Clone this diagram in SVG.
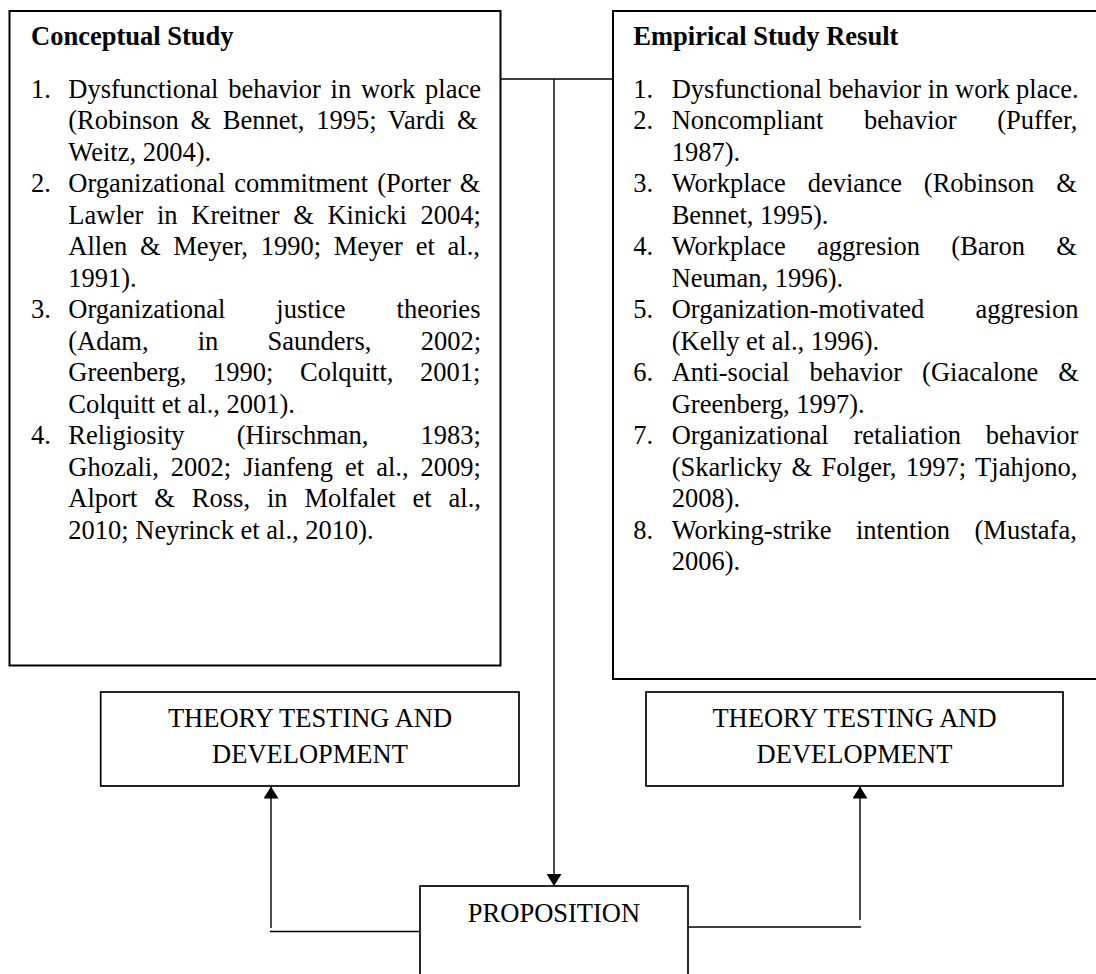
<svg xmlns="http://www.w3.org/2000/svg" width="1096" height="974" viewBox="0 0 1096 974">
<style>
.t{font-family:"Liberation Serif","Times New Roman",serif;font-size:26.5px;fill:#000}
.b{font-weight:bold}
.m{text-anchor:middle}
.box{fill:#fff;stroke:#000;stroke-width:2}
.sb{fill:#fff;stroke:#000;stroke-width:1.7}
.c{fill:none;stroke:#000;stroke-width:1.4}
</style>
<defs>
<marker id="ah" viewBox="0 0 12 15" refX="12" refY="7.5" markerWidth="12" markerHeight="15" orient="auto" markerUnits="userSpaceOnUse">
<path d="M0,0 L12,7.5 L0,15 z" fill="#000"/>
</marker>
</defs>
<rect width="1096" height="974" fill="#fff"/>

<g id="connectors">
<line class="c" x1="500.5" y1="79" x2="613" y2="79"/>
<line class="c" x1="554" y1="79" x2="554" y2="886" marker-end="url(#ah)"/>
<line class="c" x1="420" y1="931.5" x2="270" y2="931.5"/>
<line class="c" x1="271" y1="928" x2="271" y2="786.5" marker-end="url(#ah)"/>
<line class="c" x1="688" y1="927" x2="861" y2="927"/>
<line class="c" x1="860" y1="920" x2="860" y2="786.5" marker-end="url(#ah)"/>
</g>

<g id="conceptual">
<rect class="box" x="9.5" y="11" width="491" height="654.5"/>
<text class="t b" x="31" y="44.5">Conceptual Study</text>
<text class="t" x="31" y="97.5">1.</text>
<text class="t" x="68.3" y="97.5" word-spacing="3.09">Dysfunctional behavior in work place</text>
<text class="t" x="68.3" y="129" word-spacing="5.1">(Robinson &amp; Bennet, 1995; Vardi &amp;</text>
<text class="t" x="68.3" y="160.5">Weitz, 2004).</text>
<text class="t" x="31" y="192">2.</text>
<text class="t" x="68.3" y="192" word-spacing="2.38">Organizational commitment (Porter &amp;</text>
<text class="t" x="68.3" y="223.5" word-spacing="7.03">Lawler in Kreitner &amp; Kinicki 2004;</text>
<text class="t" x="68.3" y="255" word-spacing="6.1">Allen &amp; Meyer, 1990; Meyer et al.,</text>
<text class="t" x="68.3" y="286.5">1991).</text>
<text class="t" x="31" y="318">3.</text>
<text class="t" x="68.3" y="318" word-spacing="44.43">Organizational justice theories</text>
<text class="t" x="68.3" y="349.5" word-spacing="42.62">(Adam, in Saunders, 2002;</text>
<text class="t" x="68.3" y="381" word-spacing="20.04">Greenberg, 1990; Colquitt, 2001;</text>
<text class="t" x="68.3" y="412.5">Colquitt et al., 2001).</text>
<text class="t" x="31" y="444">4.</text>
<text class="t" x="68.3" y="444" word-spacing="45.51">Religiosity (Hirschman, 1983;</text>
<text class="t" x="68.3" y="475.5" word-spacing="5.4">Ghozali, 2002; Jianfeng et al., 2009;</text>
<text class="t" x="68.3" y="507" word-spacing="10.26">Alport &amp; Ross, in Molfalet et al.,</text>
<text class="t" x="68.3" y="538.5">2010; Neyrinck et al., 2010).</text>
</g>

<g id="empirical">
<rect class="box" x="613" y="11" width="490" height="668"/>
<text class="t b" x="633.3" y="44.5">Empirical Study Result</text>
<text class="t" x="633.3" y="97.5">1.</text>
<text class="t" x="671.7" y="97.5">Dysfunctional behavior in work place.</text>
<text class="t" x="633.3" y="129">2.</text>
<text class="t" x="671.7" y="129" word-spacing="34.01">Noncompliant behavior (Puffer,</text>
<text class="t" x="671.7" y="160.5">1987).</text>
<text class="t" x="633.3" y="192">3.</text>
<text class="t" x="671.7" y="192" word-spacing="15.32">Workplace deviance (Robinson &amp;</text>
<text class="t" x="671.7" y="223.5">Bennet, 1995).</text>
<text class="t" x="633.3" y="255">4.</text>
<text class="t" x="671.7" y="255" word-spacing="24.64">Workplace aggresion (Baron &amp;</text>
<text class="t" x="671.7" y="286.5">Neuman, 1996).</text>
<text class="t" x="633.3" y="318">5.</text>
<text class="t" x="671.7" y="318" word-spacing="44.46">Organization-motivated aggresion</text>
<text class="t" x="671.7" y="349.5">(Kelly et al., 1996).</text>
<text class="t" x="633.3" y="381">6.</text>
<text class="t" x="671.7" y="381" word-spacing="13.35">Anti-social behavior (Giacalone &amp;</text>
<text class="t" x="671.7" y="412.5">Greenberg, 1997).</text>
<text class="t" x="633.3" y="444">7.</text>
<text class="t" x="671.7" y="444" word-spacing="18.19">Organizational retaliation behavior</text>
<text class="t" x="671.7" y="475.5" word-spacing="2.82">(Skarlicky &amp; Folger, 1997; Tjahjono,</text>
<text class="t" x="671.7" y="507">2008).</text>
<text class="t" x="633.3" y="538.5">8.</text>
<text class="t" x="671.7" y="538.5" word-spacing="17.81">Working-strike intention (Mustafa,</text>
<text class="t" x="671.7" y="570">2006).</text>
</g>

<g id="theory-left">
<rect class="sb" x="100.7" y="692" width="418.3" height="94"/>
<text class="t m" x="310" y="727.3">THEORY TESTING AND</text>
<text class="t m" x="310" y="763.3">DEVELOPMENT</text>
</g>

<g id="theory-right">
<rect class="sb" x="646" y="692" width="417" height="94"/>
<text class="t m" x="854.5" y="727.3">THEORY TESTING AND</text>
<text class="t m" x="854.5" y="763.3">DEVELOPMENT</text>
</g>

<g id="proposition">
<rect class="sb" x="420" y="886" width="268" height="110"/>
<text class="t m" x="554" y="922">PROPOSITION</text>
</g>
</svg>
